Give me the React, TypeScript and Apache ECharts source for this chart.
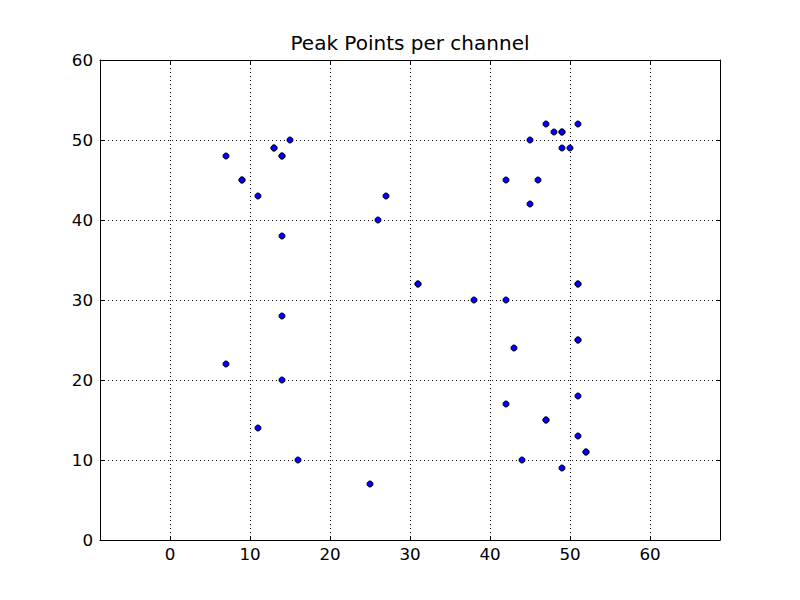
import React, { useEffect, useRef } from "react";
import * as echarts from "echarts";

const xTicks = [0, 10, 20, 30, 40, 50, 60];
const yTicks = [0, 10, 20, 30, 40, 50, 60];

const xValues = [
  7, 9, 9, 11, 13, 13, 14, 14, 15, 14, 26, 27, 31, 31, 38, 42, 42, 45, 46, 45,
  47, 48, 49, 49, 49, 50, 51, 51, 51, 51, 51, 43, 42, 47, 47, 51, 51, 52, 52,
  44, 49, 25, 16, 11, 14, 7, 14,
];
const yValues = [
  48, 45, 45, 43, 49, 49, 48, 48, 50, 38, 40, 43, 32, 32, 30, 30, 45, 42, 45, 50,
  52, 51, 51, 51, 49, 49, 52, 32, 32, 25, 25, 24, 17, 15, 15, 18, 13, 11, 11,
  10, 9, 7, 10, 14, 20, 22, 28,
];

const FONT = "DejaVu Sans";

export default function App() {
  const ref = useRef<HTMLDivElement>(null);
  useEffect(() => {
    if (!ref.current) return;
    const chart = echarts.init(ref.current, undefined, { renderer: "svg" });
    const points = xValues.map((x, i) => [x, yValues[i]]);
    const axisLine = { show: true, onZero: false, lineStyle: { color: "#000", width: 1 } };
    const tick = { show: true, inside: true, length: 4, lineStyle: { color: "#000", width: 1 } };
    const split = { show: true, lineStyle: { color: "#000", type: [1, 3], width: 1 } };
    chart.setOption({
      animation: false,
      backgroundColor: "#fff",
      title: {
        text: "Peak Points per channel",
        left: 410,
        textAlign: "center",
        top: 33,
        padding: 0,
        textStyle: { fontFamily: FONT, fontSize: 20, fontWeight: "normal", color: "#000" },
      },
      grid: { left: 100, right: 80, top: 60, bottom: 60, containLabel: false },
      xAxis: [
        {
          type: "value",
          min: -8.75,
          max: 68.75,
          position: "bottom",
          axisLine,
          axisTick: { ...tick, customValues: xTicks },
          axisLabel: {
            customValues: xTicks,
            margin: 5,
            fontFamily: FONT,
            fontSize: 16.7,
            color: "#000",
          },
          splitLine: split,
        },
        {
          type: "value",
          min: -8.75,
          max: 68.75,
          position: "top",
          axisLine,
          axisTick: { ...tick, customValues: xTicks },
          axisLabel: { show: false, customValues: xTicks },
          splitLine: { show: false },
        },
      ],
      yAxis: [
        {
          type: "value",
          min: 0,
          max: 60,
          interval: 10,
          position: "left",
          axisLine,
          axisTick: tick,
          axisLabel: { margin: 7, fontFamily: FONT, fontSize: 16.7, color: "#000" },
          splitLine: split,
        },
        {
          type: "value",
          min: 0,
          max: 60,
          interval: 10,
          position: "right",
          axisLine,
          axisTick: tick,
          axisLabel: { show: false },
          splitLine: { show: false },
        },
      ],
      series: [
        {
          type: "scatter",
          xAxisIndex: 0,
          yAxisIndex: 0,
          data: points,
          symbol: "circle",
          symbolSize: 6,
          itemStyle: { color: "#0000ff", borderColor: "#000", borderWidth: 1, opacity: 1 },
          emphasis: { disabled: true },
        },
      ],
    });
    return () => chart.dispose();
  }, []);
  return (
    <div
      ref={ref}
      style={{ position: "fixed", left: 0, top: 0, width: 800, height: 600 }}
    />
  );
}
